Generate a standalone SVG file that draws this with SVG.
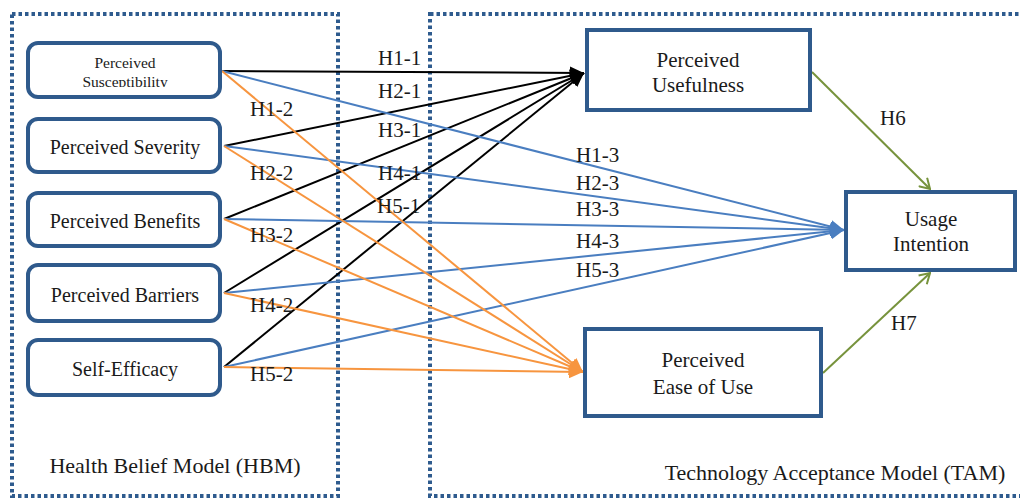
<svg xmlns="http://www.w3.org/2000/svg" width="1020" height="499" viewBox="0 0 1020 499">
<defs>
<style>
.frame{fill:none;stroke:#2E5B8E;stroke-width:4;stroke-dasharray:3.5 3}
.node{fill:#fff;stroke:#2F5A8C;stroke-width:4}
.t{fill:#1a1a1a;text-anchor:middle}
.lbl{fill:#1a1a1a;font-size:21px}
.k{stroke:#000;stroke-width:2;fill:none;marker-end:url(#ak)}
.b{stroke:#4A7EC0;stroke-width:2;fill:none;marker-end:url(#ab)}
.o{stroke:#F7953F;stroke-width:2;fill:none;marker-end:url(#ao)}
.g{stroke:#77933C;stroke-width:2;fill:none;marker-end:url(#ag)}
</style>
<marker id="ak" markerUnits="userSpaceOnUse" markerWidth="15" markerHeight="13" refX="14" refY="6.5" orient="auto"><path d="M0,0 L14,6.5 L0,13 z" fill="#000"/></marker>
<marker id="ab" markerUnits="userSpaceOnUse" markerWidth="15" markerHeight="13" refX="14" refY="6.5" orient="auto"><path d="M0,0 L14,6.5 L0,13 z" fill="#4A7EC0"/></marker>
<marker id="ao" markerUnits="userSpaceOnUse" markerWidth="15" markerHeight="13" refX="14" refY="6.5" orient="auto"><path d="M0,0 L14,6.5 L0,13 z" fill="#F7953F"/></marker>
<marker id="ag" markerUnits="userSpaceOnUse" markerWidth="12" markerHeight="14" refX="11" refY="7" orient="auto"><path d="M1,1 L11,7 L1,13" fill="none" stroke="#77933C" stroke-width="2"/></marker>
<clipPath id="clipSus"><rect x="28" y="40" width="194" height="47"/></clipPath>
</defs>

<g font-family="'Liberation Serif', 'DejaVu Serif', serif">
<g id="frames">
<rect class="frame" x="12" y="14" width="326" height="482"/>
<rect class="frame" x="430" y="14" width="650" height="482"/>
<text class="t" x="175" y="473" font-size="22">Health Belief Model (HBM)</text>
<text class="t" x="835" y="480" font-size="22">Technology Acceptance Model (TAM)</text>
</g>

<g id="connectors">
<line class="k" x1="222" y1="71" x2="584" y2="73"/>
<line class="k" x1="224" y1="146" x2="584" y2="73"/>
<line class="k" x1="224" y1="219" x2="584" y2="73"/>
<line class="k" x1="224" y1="293" x2="584" y2="73"/>
<line class="k" x1="224" y1="367" x2="584" y2="73"/>
<line class="b" x1="222" y1="71" x2="844" y2="230"/>
<line class="b" x1="224" y1="146" x2="844" y2="230"/>
<line class="b" x1="224" y1="219" x2="844" y2="230"/>
<line class="b" x1="224" y1="293" x2="844" y2="230"/>
<line class="b" x1="224" y1="367" x2="844" y2="230"/>
<line class="o" x1="222" y1="71" x2="583" y2="372"/>
<line class="o" x1="224" y1="146" x2="583" y2="372"/>
<line class="o" x1="224" y1="219" x2="583" y2="372"/>
<line class="o" x1="224" y1="293" x2="583" y2="372"/>
<line class="o" x1="224" y1="367" x2="583" y2="372"/>
<line class="g" x1="812" y1="72" x2="930" y2="189"/>
<line class="g" x1="823" y1="373" x2="930" y2="273"/>
<text class="lbl" x="378" y="65">H1-1</text>
<text class="lbl" x="378" y="98">H2-1</text>
<text class="lbl" x="378" y="137">H3-1</text>
<text class="lbl" x="378" y="180">H4-1</text>
<text class="lbl" x="377" y="213">H5-1</text>
<text class="lbl" x="250" y="116">H1-2</text>
<text class="lbl" x="250" y="180">H2-2</text>
<text class="lbl" x="250" y="242">H3-2</text>
<text class="lbl" x="250" y="312">H4-2</text>
<text class="lbl" x="250" y="381">H5-2</text>
<text class="lbl" x="576" y="162">H1-3</text>
<text class="lbl" x="576" y="190">H2-3</text>
<text class="lbl" x="576" y="216">H3-3</text>
<text class="lbl" x="576" y="248">H4-3</text>
<text class="lbl" x="576" y="277">H5-3</text>
<text class="lbl" x="880" y="125">H6</text>
<text class="lbl" x="891" y="330">H7</text>
</g>

<g id="n-susceptibility">
<rect class="node" x="28" y="43" width="192" height="54" rx="10"/>
<g clip-path="url(#clipSus)">
<text class="t" x="125" y="68" font-size="15.5">Perceived</text>
<text class="t" x="125" y="87" font-size="15.5">Susceptibility</text>
</g>
</g>
<g id="n-severity">
<rect class="node" x="28" y="119" width="192" height="53" rx="10"/>
<text class="t" x="125" y="154" font-size="20">Perceived Severity</text>
</g>
<g id="n-benefits">
<rect class="node" x="28" y="193" width="192" height="53" rx="10"/>
<text class="t" x="125" y="228" font-size="20">Perceived Benefits</text>
</g>
<g id="n-barriers">
<rect class="node" x="28" y="265" width="192" height="56" rx="10"/>
<text class="t" x="125" y="302" font-size="20">Perceived Barriers</text>
</g>
<g id="n-selfefficacy">
<rect class="node" x="28" y="340" width="192" height="55" rx="10"/>
<text class="t" x="125" y="376" font-size="20">Self-Efficacy</text>
</g>
<g id="n-usefulness">
<rect class="node" x="587" y="30" width="223" height="80"/>
<text class="t" x="698" y="67" font-size="21">Perceived</text>
<text class="t" x="698" y="92" font-size="21">Usefulness</text>
</g>
<g id="n-intention">
<rect class="node" x="846" y="192" width="169" height="78"/>
<text class="t" x="931" y="226" font-size="21">Usage</text>
<text class="t" x="931" y="251" font-size="21">Intention</text>
</g>
<g id="n-ease">
<rect class="node" x="585" y="329" width="236" height="87"/>
<text class="t" x="703" y="367" font-size="21">Perceived</text>
<text class="t" x="703" y="394" font-size="21">Ease of Use</text>
</g>
</g>
</svg>
